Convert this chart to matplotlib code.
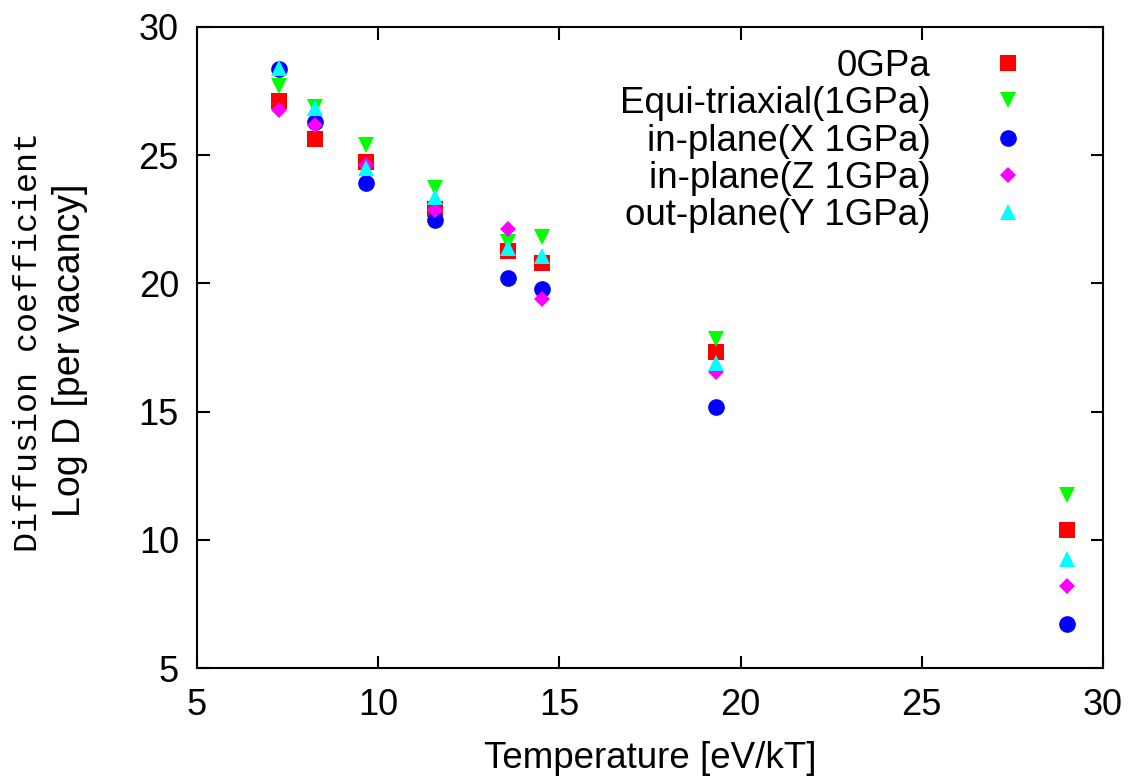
import matplotlib
matplotlib.use("Agg")
import matplotlib.pyplot as plt

plt.rcParams['font.family'] = ['Liberation Sans', 'DejaVu Sans']

temps = [7.26, 8.26, 9.66, 11.57, 13.58, 14.51, 19.32, 29.01]

labels = ["0GPa", "Equi-triaxial(1GPa)", "in-plane(X 1GPa)",
          "in-plane(Z 1GPa)", "out-plane(Y 1GPa)"]
d_0gpa = [27.11, 25.63, 24.75, 22.89, 21.28, 20.78, 17.31, 10.38]
d_equi = [27.70, 26.88, 25.40, 23.71, 21.61, 21.82, 17.83, 11.75]
d_inx = [28.36, 26.29, 23.92, 22.47, 20.22, 19.78, 15.17, 6.70]
d_inz = [26.76, 26.18, 24.60, 22.86, 22.12, 19.38, 16.56, 8.20]
d_outy = [28.40, 26.84, 24.50, 23.38, 21.38, 21.07, 16.88, 9.24]

series = [d_0gpa, d_equi, d_inx, d_inz, d_outy]
markers = ['s', 'v', 'o', 'D', '^']
sizes = [12, 12, 12, 8.5, 12]
colors = ['#ff0000', '#00ff00', '#0000ff', '#ff00ff', '#00ffff']

fig = plt.figure(figsize=(11.32, 7.76), dpi=100)
ax = fig.add_axes([197/1132, 108/776, 906/1132, 641/776])

for vals, m, s, c, lab in zip(series, markers, sizes, colors, labels):
    ax.plot(temps, vals, linestyle='none', marker=m, markersize=s,
            color=c, markeredgewidth=0, label=lab)

ax.set_xlim(5, 30)
ax.set_ylim(5, 30)
ax.set_xticks([5, 10, 15, 20, 25, 30])
ax.set_yticks([5, 10, 15, 20, 25, 30])
ax.tick_params(direction='in', length=9, width=1.5, top=True, right=True,
               labelsize=26)
ax.tick_params(axis='x', pad=14.5)
ax.tick_params(axis='y', pad=13)
for sp in ax.spines.values():
    sp.set_linewidth(1.5)

ax.set_xlabel("Temperature [eV/kT]", fontsize=26.5, labelpad=13)

fig.text(28.5/1132, 1 - 342.5/776, "Diffusion coefficient", rotation=90,
         ha='center', va='center', fontsize=24,
         family=['Liberation Mono', 'DejaVu Sans Mono'])
fig.text(70/1132, 1 - 350/776, "Log D [per vacancy]", rotation=90,
         ha='center', va='center', fontsize=27,
         family=['Liberation Sans', 'DejaVu Sans'])

ax.legend(loc='upper right', bbox_to_anchor=(0.911, 0.9655), frameon=False,
          markerfirst=False, fontsize=26.5, handlelength=0.8,
          handletextpad=1.69, labelspacing=0.06, borderaxespad=0, borderpad=0)

fig.savefig("out.png", dpi=100)
